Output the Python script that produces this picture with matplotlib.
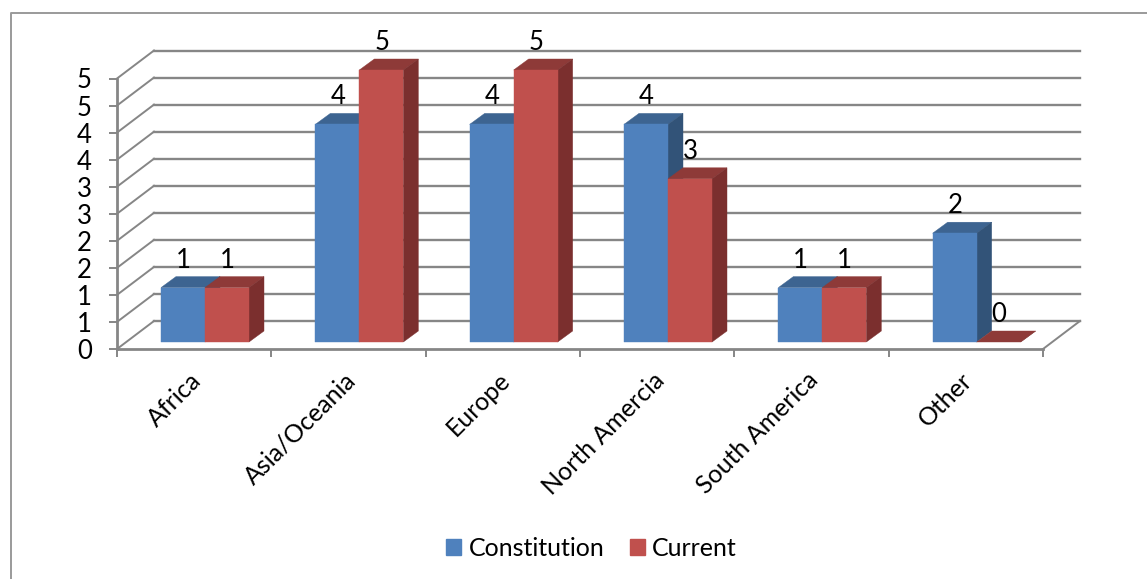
import matplotlib
matplotlib.use("Agg")
import matplotlib.pyplot as plt
from matplotlib.lines import Line2D
from matplotlib.patches import Patch, Polygon

categories = ["Africa", "Asia/Oceania", "Europe", "North Amercia", "South America", "Other"]
constitution = [1, 4, 4, 4, 1, 2]
current = [1, 5, 5, 3, 1, 0]
y_ticks = [0, 0.5, 1, 1.5, 2, 2.5, 3, 3.5, 4, 4.5, 5]
y_labels = ["0", "1", "1", "2", "2", "3", "3", "4", "4", "5", "5"]

W, H = 1147, 579
GREY = "#868686"
BLUE = ("#4f81bd", "#3d6491", "#325378")
RED = ("#c0504d", "#8e3a38", "#7b2f2e")

plt.rcParams["font.family"] = ["Lato", "DejaVu Sans"]
fig = plt.figure(figsize=(W / 100, H / 100), dpi=100)

# plot box in pixels, x runs over the categories and y over the values
left, right, top, bottom = 117, 1043, 78.5, 349
ax = fig.add_axes([left / W, 1 - bottom / H, (right - left) / W, (bottom - top) / H])
ax.set_xlim(0, 6)
ax.set_ylim(0, 5)
ax.patch.set_alpha(0)

px_x = 6 / (right - left)
px_y = 5 / (bottom - top)
wall_dx, wall_dy = 37 * px_x, 28 * px_y
bar_dx, bar_dy = 15 * px_x, 11 * px_y
base = 7 * px_y
bar_w = 44 * px_x
gap = 44 * px_x
unit = 54.4 * px_y  # bars stand a little taller than the axis scale


def poly(points, color, z):
    ax.add_patch(Polygon(points, closed=True, fc=color, ec=color, lw=0.3, zorder=z, clip_on=False))


def bar3d(x, val, cols, z):
    y0, y1 = base, base + val * unit
    x1 = x + bar_w
    poly([(x, y1), (x1, y1), (x1 + bar_dx, y1 + bar_dy), (x + bar_dx, y1 + bar_dy)], cols[1], z)
    poly([(x1, y0), (x1 + bar_dx, y0 + bar_dy), (x1 + bar_dx, y1 + bar_dy), (x1, y1)], cols[2], z)
    if val > 0:
        poly([(x, y0), (x1, y0), (x1, y1), (x, y1)], cols[0], z + 0.1)


# back wall grid and the slanted lines on the side wall
for t in y_ticks:
    ax.plot([wall_dx, 6 + wall_dx], [t + wall_dy, t + wall_dy], color=GREY, lw=1.7, zorder=1, clip_on=False)
    ax.plot([0, wall_dx], [t, t + wall_dy], color=GREY, lw=1.4, zorder=1, clip_on=False)
ax.plot([6, 6 + wall_dx], [0, wall_dy], color=GREY, lw=1.4, zorder=1, clip_on=False)

for i in range(len(categories)):
    x0 = i + gap
    bar3d(x0, constitution[i], BLUE, 2 + i)
    bar3d(x0 + bar_w, current[i], RED, 2.5 + i)
    for x, val in ((x0, constitution[i]), (x0 + bar_w, current[i])):
        ax.text(x + bar_w / 2 + 0.5 * px_x, base + val * unit + bar_dy + 4 * px_y, str(val), ha="center",
                va="bottom", fontsize=18.5, color="black", zorder=20, clip_on=False)

for s in ("top", "right"):
    ax.spines[s].set_visible(False)
for s in ("left", "bottom"):
    ax.spines[s].set_color(GREY)
    ax.spines[s].set_linewidth(2)
    ax.spines[s].set_zorder(1.5)

ax.set_yticks(y_ticks)
ax.set_yticklabels(y_labels, fontsize=18.5)
ax.tick_params(axis="y", length=6, width=1.4, color=GREY, pad=12)
ax.set_xticks(range(7))
ax.set_xticklabels([])
ax.set_xticks([i + 0.5 - 5 * px_x for i in range(6)], minor=True)
ax.set_xticklabels(categories, minor=True, rotation=45, ha="right", rotation_mode="anchor", fontsize=18)
ax.tick_params(axis="x", which="major", length=6, width=1.4, color=GREY)
ax.tick_params(axis="x", which="minor", length=0, pad=14)

handles = [Patch(color=BLUE[0], label="Constitution"), Patch(color=RED[0], label="Current")]
fig.legend(handles=handles, loc="center", bbox_to_anchor=(591.5 / W, 1 - 548 / H), ncol=2, frameon=False,
           fontsize=18, handlelength=0.6, handleheight=0.6, handletextpad=0.3, columnspacing=1.0)

# chart frame, only the left and top edges are inside the picture
fig.add_artist(Line2D([11 / W, 11 / W, 1], [0, 1 - 13 / H, 1 - 13 / H], transform=fig.transFigure,
                      color="#9a9a9a", lw=1.4))

fig.savefig("out.png", dpi=100)
